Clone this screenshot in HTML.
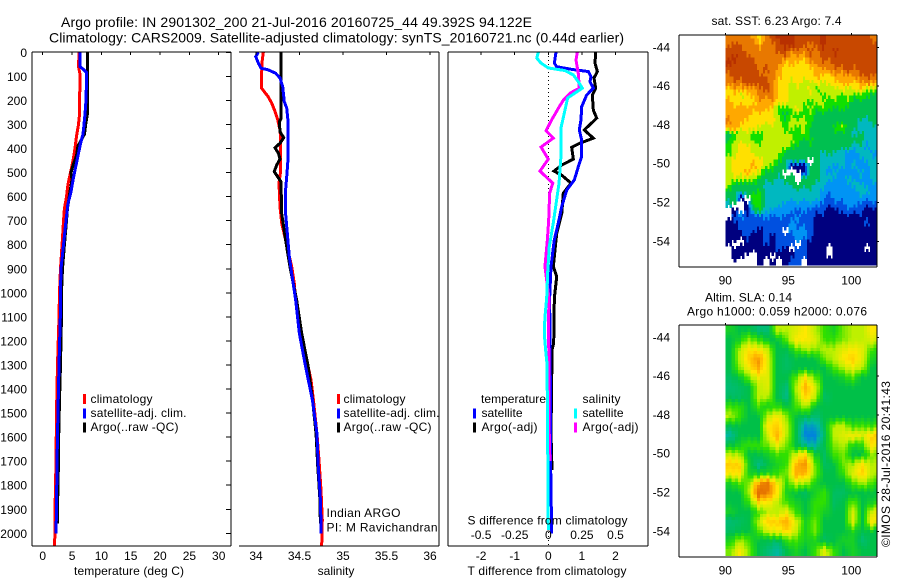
<!DOCTYPE html>
<html lang="en">
<head>
<meta charset="utf-8">
<title>Argo profile</title>
<style>
html,body{margin:0;padding:0;background:#fff;}
svg{display:block;}
text{font-family:"Liberation Sans",Arial,sans-serif;font-size:12px;fill:#000;}
.ttl{font-size:14px;}
.ln{fill:none;stroke-linejoin:miter;shape-rendering:crispEdges;}
.ax{stroke:#000;stroke-width:1;shape-rendering:crispEdges;fill:none;}
</style>
</head>
<body>
<svg id="chart" xmlns="http://www.w3.org/2000/svg" width="900" height="580" viewBox="0 0 900 580">
<rect width="900" height="580" fill="#fff"/>
<text class="ttl" x="61" y="27" textLength="471">Argo profile: IN 2901302_200 21-Jul-2016 20160725_44 49.392S 94.122E</text>
<text class="ttl" x="49" y="42.5" textLength="575">Climatology: CARS2009. Satellite-adjusted climatology: synTS_20160721.nc (0.44d earlier)</text>

<g id="maps"></g>
<g id="panels"></g>

<g>
<rect x="83" y="394" width="3" height="10" fill="#f00"/>
<rect x="83" y="408.5" width="3" height="10" fill="#00f"/>
<rect x="83" y="422.5" width="3" height="10" fill="#000"/>
<text x="90.5" y="403" textLength="62">climatology</text>
<text x="90.5" y="417" textLength="96">satellite-adj. clim.</text>
<text x="90.5" y="431" textLength="88">Argo(..raw -QC)</text>
</g>
<text x="74" y="575" textLength="110">temperature (deg C)</text>

<g>
<rect x="337" y="394" width="3" height="10" fill="#f00"/>
<rect x="337" y="408.5" width="3" height="10" fill="#00f"/>
<rect x="337" y="422.5" width="3" height="10" fill="#000"/>
<text x="343.5" y="403" textLength="62">climatology</text>
<text x="343.5" y="417" textLength="96">satellite-adj. clim.</text>
<text x="343.5" y="431" textLength="88">Argo(..raw -QC)</text>
</g>
<text x="326.5" y="517" textLength="74">Indian ARGO</text>
<text x="326.5" y="531.5" textLength="111">PI: M Ravichandran</text>
<text x="336" y="575" text-anchor="middle">salinity</text>

<g>
<text x="481" y="403" textLength="65">temperature</text>
<rect x="473" y="408.5" width="3" height="10" fill="#00f"/>
<text x="481.5" y="417" textLength="41">satellite</text>
<rect x="473" y="422.5" width="3" height="10" fill="#000"/>
<text x="481.5" y="431" textLength="56">Argo(-adj)</text>
<text x="582.5" y="403" textLength="38">salinity</text>
<rect x="574" y="408.5" width="3" height="10" fill="#0ff"/>
<text x="582.5" y="417" textLength="41">satellite</text>
<rect x="574" y="422.5" width="3" height="10" fill="#f0f"/>
<text x="582.5" y="431" textLength="56">Argo(-adj)</text>
</g>
<text x="467.5" y="524.5" textLength="160">S difference from climatology</text>
<text x="467.5" y="575" textLength="159">T difference from climatology</text>

<text x="711.5" y="25" textLength="130">sat. SST: 6.23  Argo: 7.4</text>
<text x="705" y="301.5" textLength="87">Altim. SLA: 0.14</text>
<text x="687" y="315.5" textLength="180">Argo h1000: 0.059 h2000: 0.076</text>
<text transform="translate(890,547) rotate(-90)" x="0" y="0" textLength="166">©IMOS 28-Jul-2016 20:41:43</text>
</svg>

<script>
/* ---------- tick values ---------- */
const depthTicks = [0,100,200,300,400,500,600,700,800,900,1000,1100,1200,1300,1400,1500,1600,1700,1800,1900,2000];
const tempTicks = [0,5,10,15,20,25,30];
const salTicks = [34,34.5,35,35.5,36];
const dTTicks = [-2,-1,0,1,2];
const dSTicks = [-0.5,-0.25,0,0.25,0.5];
const lonTicks = [90,95,100];
const latTicks = [-44,-46,-48,-50,-52,-54];

/* ---------- temperature profiles ---------- */
const tClimDepth = [0,60,90,260,300,350,400,450,500,550,600,650,700,800,900,1000,1100,1300,1500,1700,1900,2000,2050];
const tClimValue = [6.2,6.1,6.35,6.27,6.1,5.76,5.5,5.17,4.74,4.3,4.06,3.7,3.55,3.3,3.03,2.86,2.78,2.52,2.35,2.27,2.1,2.1,2.0];
const tSatDepth = [0,60,70,85,200,260,300,340,380,420,470,520,580,630,700,800,900,1000,1100,1300,1500,1700,1900,2000];
const tSatValue = [6.36,6.36,6.9,7.5,7.38,7.2,7.04,6.87,6.44,6.1,5.68,5.25,4.82,4.3,3.97,3.55,3.12,3.03,3.0,2.78,2.6,2.44,2.35,2.27];
const tArgoDepth = [0,260,290,340,390,430,470,500,530,580,650,700,800,900,1000,1100,1300,1450,1600,1700,1900,1960];
const tArgoValue = [7.6,7.6,7.38,7.12,6.0,5.76,5.17,4.82,5.0,4.65,4.22,4.06,3.7,3.37,3.2,3.2,3.03,2.86,2.72,2.69,2.52,2.5];

/* ---------- salinity profiles ---------- */
const sClimDepth = [0,39,87,149,164,185,211,247,281,323,365,503,544,642,710,780,891,960,1030,1168,1362,1445,1584,1695,1820,1945,2050];
const sClimValue = [34.084,34.07,34.065,34.065,34.096,34.14,34.18,34.22,34.25,34.276,34.284,34.28,34.264,34.276,34.295,34.34,34.41,34.44,34.456,34.517,34.632,34.66,34.70,34.724,34.747,34.762,34.755];
const sSatDepth = [0,18,45,66,73,87,107,143,205,232,294,434,503,573,670,753,850,919,1030,1168,1307,1445,1584,1722,1860,2000];
const sSatValue = [34.027,33.997,34.027,34.057,34.14,34.226,34.276,34.307,34.325,34.353,34.37,34.37,34.356,34.34,34.34,34.36,34.383,34.41,34.456,34.498,34.57,34.648,34.70,34.716,34.74,34.75];
const sArgoDepth = [0,274,289,330,355,378,397,419,444,469,496,538,670,780,891,1030,1168,1307,1445,1584,1722,1860,1960];
const sArgoValue = [34.29,34.29,34.268,34.276,34.318,34.276,34.218,34.257,34.276,34.238,34.21,34.287,34.295,34.34,34.39,34.467,34.525,34.60,34.65,34.69,34.71,34.735,34.74];

/* ---------- difference profiles ---------- */
const dTSatDepth = [0,45,60,71,80,101,122,149,178,226,281,323,365,434,476,531,573,642,710,780,891,1022,1376,1722,2000];
const dTSatValue = [0.229,0.18,0.25,0.696,1.19,1.27,1.24,1.34,1.14,0.994,0.973,0.923,0.994,0.994,0.893,0.774,0.548,0.399,0.298,0.179,0.08,0.04,0.06,0.07,0.1];
const dTArgoDepth = [0,45,80,107,149,178,240,274,323,357,378,395,444,469,494,511,544,586,670,753,891,933,1022,1210,1237,1376,1584,1736];
const dTArgoValue = [1.41,1.39,1.46,1.36,1.41,1.31,1.34,1.44,1.07,1.34,0.943,0.696,0.744,0.4,0.17,0.4,0.676,0.446,0.4,0.25,0.149,0.25,0.18,0.16,0.11,0.1,0.08,0.11];
const dSSatDepth = [0,24,45,65,76,94,122,149,190,253,315,434,544,614,710,809,919,1022,1100,1168,1237,1293,1445,1986];
const dSSatValue = [-0.074,-0.086,-0.054,0,0.124,0.186,0.223,0.253,0.144,0.119,0.094,0.094,0.08,0.062,0.037,0.007,-0.005,-0.012,-0.025,-0.03,-0.02,-0.01,-0.007,0];
const dSArgoDepth = [0,32,87,149,170,199,226,281,326,357,394,444,494,544,586,697,780,891,1022,1168,1293,1584,1700];
const dSArgoValue = [0.216,0.206,0.223,0.231,0.161,0.112,0.082,0.025,-0.017,0.037,-0.054,0,-0.062,0.033,0.01,0.003,-0.007,-0.025,0.005,0,0.007,0.007,0.012];

/* ---------- satellite SST map: class index per cell, -1 = no data ---------- */
const sstGrid = [
[9,9,9,9,8,7,9,10,11,11,11,10,10,10,10,11,10,10,10,10,10,10,10,9],
[9,10,9,9,9,8,9,9,10,11,11,10,10,9,10,11,10,10,10,10,10,10,10,10],
[10,10,10,9,9,9,9,9,10,10,9,9,9,10,9,10,10,11,10,10,10,10,10,10],
[10,11,10,10,9,9,9,9,9,9,8,8,8,9,9,10,10,10,10,10,10,10,10,10],
[11,10,10,10,10,9,9,9,9,7,8,7,7,8,9,9,9,10,10,10,10,10,10,10],
[10,10,10,10,10,9,10,9,8,7,7,7,7,7,8,8,9,9,9,10,9,10,10,10],
[9,10,10,10,10,10,9,9,8,7,7,7,7,7,8,7,7,8,8,8,9,9,10,9],
[9,9,9,10,10,10,10,9,7,7,6,7,6,6,7,6,7,7,8,8,7,8,9,8],
[7,8,8,8,8,9,10,9,7,7,6,6,6,7,5,6,6,6,7,6,7,7,6,6],
[7,7,6,7,8,9,9,9,7,7,6,6,6,6,6,5,6,6,5,6,5,5,5,4],
[8,7,7,7,7,8,8,8,7,7,6,6,6,5,6,6,5,5,5,5,4,4,4,4],
[8,8,8,8,8,8,8,7,5,5,6,7,5,6,5,5,5,4,5,4,4,4,4,4],
[8,8,8,8,7,7,7,7,5,4,5,5,5,5,4,4,4,4,4,4,4,4,4,4],
[9,8,8,7,7,7,7,7,6,5,6,6,6,5,4,4,4,4,4,4,4,3,3,4],
[8,8,7,7,7,6,6,6,6,5,6,5,6,4,4,4,4,5,6,4,4,3,3,3],
[4,5,6,6,5,5,6,6,6,6,5,5,6,4,4,4,4,4,4,4,3,4,3,3],
[4,6,6,6,5,5,6,6,6,6,6,5,4,5,4,4,4,4,4,4,4,4,3,3],
[5,6,7,7,6,6,6,6,6,6,5,4,4,4,4,4,4,4,4,4,3,3,2,3],
[5,6,7,7,6,6,6,6,6,4,4,4,4,4,4,3,4,3,3,2,2,3,3,2],
[6,7,7,7,7,7,6,6,5,4,4,4,4,-1,4,3,3,3,3,2,2,2,3,3],
[6,7,7,7,8,7,6,5,4,4,0,0,0,4,4,3,3,2,3,2,3,2,2,3],
[6,7,7,8,7,6,4,4,4,-1,-1,-1,0,4,4,3,2,3,2,2,2,3,2,3],
[6,6,6,6,6,4,4,4,3,4,4,-1,4,4,4,3,3,2,2,3,2,2,2,3],
[6,4,4,4,4,4,3,3,3,3,4,4,4,4,3,3,2,2,2,2,3,3,2,2],
[4,4,4,4,4,5,3,3,3,3,3,3,3,3,3,2,2,2,2,2,2,3,3,2],
[4,4,0,-1,5,5,3,3,3,3,3,3,3,3,3,2,1,2,2,2,2,2,2,2],
[3,-1,-1,0,5,5,3,3,3,2,2,2,2,2,2,1,1,1,1,2,2,1,1,1],
[-1,0,-1,0,4,4,3,2,2,2,2,1,2,1,1,1,0,0,1,1,1,1,0,0],
[-1,1,2,1,1,1,2,1,2,1,1,2,1,1,0,0,0,0,0,0,0,0,0,0],
[0,0,1,1,1,1,1,1,1,1,2,1,1,1,0,0,0,0,0,0,0,0,1,0],
[0,0,1,1,1,0,1,1,1,-1,2,2,2,1,0,0,0,0,0,0,0,0,0,0],
[0,0,0,1,0,0,1,0,1,1,1,2,2,1,0,0,0,0,0,0,0,0,0,0],
[0,-1,-1,0,0,0,1,0,1,1,1,-1,1,0,0,0,0,0,0,0,0,0,0,0],
[-1,0,0,0,0,0,0,0,1,0,-1,1,1,0,0,0,-1,0,0,0,0,0,-1,0],
[-1,0,0,-1,-1,0,0,-1,0,0,0,1,1,0,0,0,-1,0,0,0,0,0,0,0],
[-1,-1,-1,-1,-1,0,-1,0,-1,0,1,1,-1,0,0,0,0,0,0,0,0,0,0,0]
];
const sstColors = ['#00007f','#0050e0','#0094f4','#00b8c0','#00c050','#10e000','#c0f000','#ffe000','#ffa800','#e87800','#c84800','#b83000'];

/* ---------- altimetry SLA map: relative sea-level class per cell ---------- */
const slaGrid = [
[3.5,3,3,2.5,2.5,5,5,5.5,6,5,4,3.5,4.5,5,5,6],
[3,3.5,4.5,4,3,3,4.5,6,6,5.5,4,4,4.5,5,5,5.5],
[3,5,6,6,5,3,3,4,5,4.5,5,5,5.5,6,5.5,4],
[3,5,6.5,7.5,5.5,3,2.7,3,3,3,4.5,5,6,6.5,5.5,3.5],
[3,4.5,6,7,5.5,3,2.7,3,3,3,3,4,5,5.5,5,3],
[2.7,3,4.5,5.5,5.5,3,3,4.5,6,4.5,3,3,3.5,4,3,3],
[2.5,2.7,3,5,5.5,3,2.5,5,7,5.5,3,3,3,3,3,3],
[2.7,2.7,3,5,5,3,2.3,4.5,6.5,5,2.7,3,3,3,3,3],
[4,4,3,4,3.5,4,3,4,5,3,3,3,3,3,3,3],
[5,4,3,3,5,6,4.5,3,3,2.5,3,3,3,3,3,3],
[3,3,3,3,6,6.5,5,3,1.5,1.5,3,5,5,4,4,4],
[2,3,3,3,5.5,7,5,3,1,1,2.7,5,5.5,6,5.5,6.5],
[3,3.5,4,4,4.5,5.5,4.5,3,2,2,3,4.5,5,3.5,4,6],
[5,5,3,3,3.5,4,4,5.5,6,3.5,2.7,4,4.5,3,3,4.5],
[6.5,6.5,3.5,2.2,3,3.5,4,7,7.5,4.5,2.7,3,4.5,5,6,5],
[6,6,3.5,3.5,3.5,4,4.5,7,7,4.5,3,3,4,5.5,6.5,5],
[3.5,4,4.5,7.5,8,6,4,5,5,3.5,3,3,3,4,5,4],
[3,3,5,8.5,8,6,3.5,3,2.7,3.5,4,2.7,2.7,3,3,3],
[3,3,4,6,6,5,4,3.5,3,4,4,2.7,3,4.5,3,3.5],
[3.5,3,3,4,5,5,5.5,4,3,4,3.5,3,3,5.5,3,5.5],
[2.5,2.7,3,5,6.5,6.5,7,5.5,3.5,4.5,3,3,3,5.5,3,6],
[2.7,3,3,4,5.5,5.5,6.5,5,3.5,4.5,3,3,3,3.5,3,3],
[3.5,5,4,3,3,2.5,4,4,3.5,3.5,2.7,3,3.5,3.5,2.5,3],
[4.5,6,4.5,3,2.5,2,3,3.5,3,4,5.5,4,3,3.5,3,3]
];
const slaStops = [[0,128,224],[0,128,224],[0,184,160],[0,192,72],[48,224,0],[190,240,0],[255,232,0],[255,176,0],[232,120,0],[216,96,0]];

/* ---------- axis functions ---------- */
const yDepth = d => 52.3 + d * 0.2405;
const xTemp = v => 42.7 + v * 5.867;
const xSal = v => 256 + (v - 34) * 87;
const xDT = v => 548.3 + v * 33.6;
const xDS = v => 548.3 + v * 134.4;
const xLon = lon => 725.3 + (lon - 90) * 12.6;
const ySst = lat => 47.3 + (-44 - lat) * 19.4;
const ySla = lat => 337.3 + (-44 - lat) * 19.4;

const SVGNS = 'http://www.w3.org/2000/svg';
const panelLayer = document.getElementById('panels');
const mapLayer = document.getElementById('maps');

function make(tag, parent, props) {
  const e = document.createElementNS(SVGNS, tag);
  for (const k in props) e.setAttribute(k, props[k]);
  parent.appendChild(e);
  return e;
}
function seg(parent, x1, y1, x2, y2) {
  return make('line', parent, {x1: x1, y1: y1, x2: x2, y2: y2, class: 'ax'});
}
function drawProfile(xFn, depth, value, color, width) {
  const pts = depth.map((d, i) => xFn(value[i]).toFixed(2) + ',' + yDepth(d).toFixed(2)).join(' ');
  return make('polyline', panelLayer, {points: pts, class: 'ln', stroke: color, 'stroke-width': width});
}

/* ---------- panel frames ---------- */
function frameLine(x1, y1, x2, y2) {
  const l = seg(panelLayer, x1, y1, x2, y2);
  
  
}
const zeroLine = make('line', panelLayer, {x1: xDT(0), y1: 52, x2: xDT(0), y2: 546, stroke: '#000', 'stroke-width': 1, 'stroke-dasharray': '1 3', 'shape-rendering': 'crispEdges'});



/* ---------- series: temperature ---------- */
let s;
s = drawProfile(xTemp, tClimDepth, tClimValue, '#f00', 3);


s = drawProfile(xTemp, tArgoDepth, tArgoValue, '#000', 3);


s = drawProfile(xTemp, tSatDepth, tSatValue, '#00f', 3);



/* ---------- series: salinity ---------- */
s = drawProfile(xSal, sClimDepth, sClimValue, '#f00', 3);


s = drawProfile(xSal, sArgoDepth, sArgoValue, '#000', 3);


s = drawProfile(xSal, sSatDepth, sSatValue, '#00f', 3);



/* ---------- series: differences ---------- */
s = drawProfile(xDT, dTArgoDepth, dTArgoValue, '#000', 3);


s = drawProfile(xDT, dTSatDepth, dTSatValue, '#00f', 3);


s = drawProfile(xDS, dSArgoDepth, dSArgoValue, '#f0f', 3);


s = drawProfile(xDS, dSSatDepth, dSSatValue, '#0ff', 3);



/* ---------- spines ---------- */
frameLine(32, 52, 231, 52);
frameLine(32, 546, 231, 546);
frameLine(32, 52, 32, 546);
frameLine(231, 52, 231, 546);
frameLine(239, 52, 439, 52);
frameLine(239, 546, 439, 546);
frameLine(439, 52, 439, 546);
frameLine(448, 52, 648, 52);
frameLine(448, 546, 648, 546);
frameLine(448, 52, 448, 546);
frameLine(648, 52, 648, 546);

/* ---------- ticks + labels ---------- */
depthTicks.forEach(d => {
  const t = seg(panelLayer, 226, yDepth(d), 231, yDepth(d));
  
  
  const l = make('text', panelLayer, {x: 27, y: yDepth(d) + 4.5, 'text-anchor': 'end'});
  l.textContent = d;
  
  
});
tempTicks.forEach(v => {
  const t = seg(panelLayer, xTemp(v), 52, xTemp(v), 55);
  
  
  const l = make('text', panelLayer, {x: xTemp(v), y: 560, 'text-anchor': 'middle'});
  l.textContent = v;
  
  
});
salTicks.forEach(v => {
  const t = seg(panelLayer, xSal(v), 52, xSal(v), 55);
  
  
  const l = make('text', panelLayer, {x: xSal(v), y: 560, 'text-anchor': 'middle'});
  l.textContent = v;
  
  
});
dTTicks.forEach(v => {
  const t = seg(panelLayer, xDT(v), 52, xDT(v), 55);
  
  
  const l = make('text', panelLayer, {x: xDT(v), y: 560, 'text-anchor': 'middle'});
  l.textContent = v;
  
  
});
dSTicks.forEach(v => {
  const l = make('text', panelLayer, {x: xDS(v), y: 539, 'text-anchor': 'middle'});
  l.textContent = v;
  
  
});

/* vertical serration of the contour edges, in fractions of a grid row */
const serration = [0, 0.34, -0.22, 0.16, -0.36, 0.24];

/* ---------- SST map cells (classes interpolated, then re-binned) ---------- */
const sstRows = sstGrid.length;
const sstCols = sstGrid[0].length;
const sstLatTop = -43.37;
const sstLatSpan = 11.85;
const sstSubX = 3;
const sstSubY = 2;
function sstAt(gx, gy) {
  const cx = Math.max(0, Math.min(sstCols - 1, gx)), cy = Math.max(0, Math.min(sstRows - 1, gy));
  if (sstGrid[Math.round(cy)][Math.round(cx)] < 0) return -1;
  const x0 = Math.min(sstCols - 2, Math.floor(cx)), y0 = Math.min(sstRows - 2, Math.floor(cy));
  const fx = cx - x0, fy = cy - y0;
  const nodes = [[x0, y0, (1 - fx) * (1 - fy)], [x0 + 1, y0, fx * (1 - fy)], [x0, y0 + 1, (1 - fx) * fy], [x0 + 1, y0 + 1, fx * fy]];
  let sum = 0, wt = 0;
  nodes.forEach(n => {
    const v = sstGrid[n[1]][n[0]];
    if (v >= 0) { sum += v * n[2]; wt += n[2]; }
  });
  return wt > 0 ? Math.round(sum / wt) : -1;
}
for (let r = 0; r < sstRows * sstSubY; r++) {
  for (let c = 0; c < sstCols * sstSubX; c++) {
    const gy = (r + 0.5) / sstSubY - 0.5 + serration[c % serration.length];
    const gx = (c + 0.5) / sstSubX - 0.5;
    const v = sstAt(gx, gy);
    if (v < 0) continue;
    const lonA = 90 + c * 12 / (sstCols * sstSubX);
    const lonB = 90 + (c + 1) * 12 / (sstCols * sstSubX);
    const latA = sstLatTop - r * sstLatSpan / (sstRows * sstSubY);
    const latB = sstLatTop - (r + 1) * sstLatSpan / (sstRows * sstSubY);
    const cell = make('rect', mapLayer, {
      x: xLon(lonA).toFixed(2),
      y: ySst(latA).toFixed(2),
      width: (xLon(lonB) - xLon(lonA) + 0.5).toFixed(2),
      height: (ySst(latB) - ySst(latA) + 0.5).toFixed(2),
      fill: sstColors[v],
      'shape-rendering': 'crispEdges'
    });
    
    
  }
}

/* ---------- SLA map cells (bilinear between grid nodes) ---------- */
const slaRows = slaGrid.length;
const slaCols = slaGrid[0].length;
const slaLatTop = -43.39;
const slaLatSpan = 11.85;
const slaSub = 3;
function slaColor(v) {
  const i = Math.max(0, Math.min(slaStops.length - 2, Math.floor(v)));
  const f = Math.max(0, Math.min(1, v - i));
  const a = slaStops[i], b = slaStops[i + 1];
  return 'rgb(' + [0, 1, 2].map(k => Math.round(a[k] + (b[k] - a[k]) * f)).join(',') + ')';
}
function slaAt(gx, gy) {
  const cx = Math.max(0, Math.min(slaCols - 1, gx)), cy = Math.max(0, Math.min(slaRows - 1, gy));
  const x0 = Math.min(slaCols - 2, Math.floor(cx)), y0 = Math.min(slaRows - 2, Math.floor(cy));
  const fx = cx - x0, fy = cy - y0;
  return (slaGrid[y0][x0] * (1 - fx) + slaGrid[y0][x0 + 1] * fx) * (1 - fy) +
         (slaGrid[y0 + 1][x0] * (1 - fx) + slaGrid[y0 + 1][x0 + 1] * fx) * fy;
}
for (let r = 0; r < slaRows * slaSub; r++) {
  for (let c = 0; c < slaCols * slaSub; c++) {
    const lonA = 90 + c * 12 / (slaCols * slaSub);
    const lonB = 90 + (c + 1) * 12 / (slaCols * slaSub);
    const latA = slaLatTop - r * slaLatSpan / (slaRows * slaSub);
    const latB = slaLatTop - (r + 1) * slaLatSpan / (slaRows * slaSub);
    const val = slaAt((c + 0.5) / slaSub - 0.5, (r + 0.5) / slaSub - 0.5 + serration[c % serration.length] * 0.5);
    const cell = make('rect', mapLayer, {
      x: xLon(lonA).toFixed(2),
      y: ySla(latA).toFixed(2),
      width: (xLon(lonB) - xLon(lonA) + 0.5).toFixed(2),
      height: (ySla(latB) - ySla(latA) + 0.5).toFixed(2),
      fill: slaColor(val),
      'shape-rendering': 'crispEdges'
    });
    
    
  }
}

/* ---------- map frames, ticks, labels ---------- */
function mapFrame(yFn, top, bottom, labelBase) {
  [[679, top, 877, top], [679, bottom, 877, bottom], [679, top, 679, bottom], [877, top, 877, bottom]].forEach(p => {
    const f = seg(mapLayer, p[0], p[1], p[2], p[3]);
    
    
  });
  lonTicks.forEach(v => {
    const t = seg(mapLayer, xLon(v), top - 2, xLon(v), top);
    
    
    const l = make('text', mapLayer, {x: xLon(v), y: labelBase, 'text-anchor': 'middle'});
    l.textContent = v;
    
    
  });
  latTicks.forEach(v => {
    const t = seg(mapLayer, 877, yFn(v), 879, yFn(v));
    
    
    const l = make('text', mapLayer, {x: 670, y: yFn(v) + 4, 'text-anchor': 'end'});
    l.textContent = v;
    
    
  });
}
mapFrame(ySst, 35, 267, 284.5);
mapFrame(ySla, 325, 557, 574.5);
</script>
</body>
</html>
